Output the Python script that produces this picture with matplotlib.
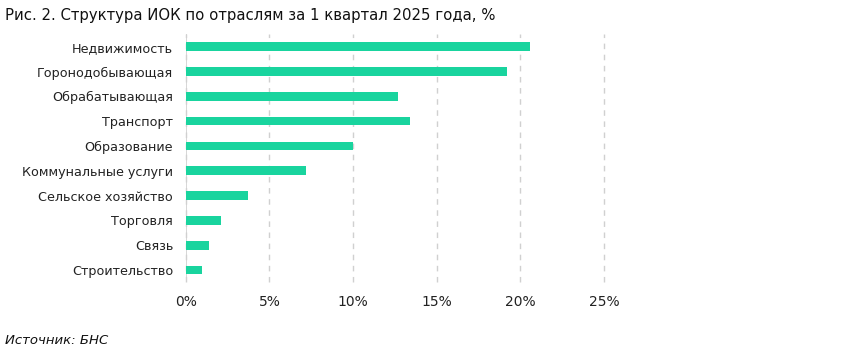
import matplotlib
matplotlib.use("Agg")
import matplotlib.pyplot as plt

categories = ["Недвижимость", "Горонодобывающая", "Обрабатывающая", "Транспорт",
              "Образование", "Коммунальные услуги", "Сельское хозяйство",
              "Торговля", "Связь", "Строительство"]
values = [20.6, 19.2, 12.7, 13.4, 10.0, 7.2, 3.7, 2.1, 1.4, 1.0]
xticks = [0, 5, 10, 15, 20, 25]
xticklabels = ["0%", "5%", "10%", "15%", "20%", "25%"]

plt.rcParams['font.family'] = ['DejaVu Sans']

fig = plt.figure(figsize=(8.5, 3.54), dpi=100)
ax = fig.add_axes([0.2185, 0.2023, 0.4921, 0.7008])

ypos = list(range(len(categories)))
ax.barh(ypos, values, height=0.35, color="#19D49E", zorder=3)
ax.set_ylim(len(categories) - 0.5, -0.5)
ax.set_xlim(0, 25)
ax.set_yticks(ypos)
ax.set_yticklabels(categories, fontsize=9.2, color="#222222")
ax.set_xticks(xticks)
ax.set_xticklabels(xticklabels, fontsize=10, color="#222222")
ax.tick_params(axis="y", length=0, pad=9)
ax.tick_params(axis="x", length=0, pad=9)
for s in ax.spines.values():
    s.set_visible(False)
ax.grid(axis="x", color="#d0d0d0", linestyle=(0, (4, 4)), linewidth=1, zorder=0)
for gl in ax.get_xgridlines():
    gl.set_clip_on(False)
ax.axvline(0, color="#d0d0d0", linewidth=1.2, zorder=1)

fig.text(0.006, 0.955, "Рис. 2. Структура ИОК по отраслям за 1 квартал 2025 года, %",
         fontsize=10.7, ha="left", va="center", color="#111111")
fig.text(0.006, 0.037, "Источник: БНС", fontsize=9.5, style="italic",
         ha="left", va="center", color="#111111")

fig.savefig("out.png", dpi=100)
